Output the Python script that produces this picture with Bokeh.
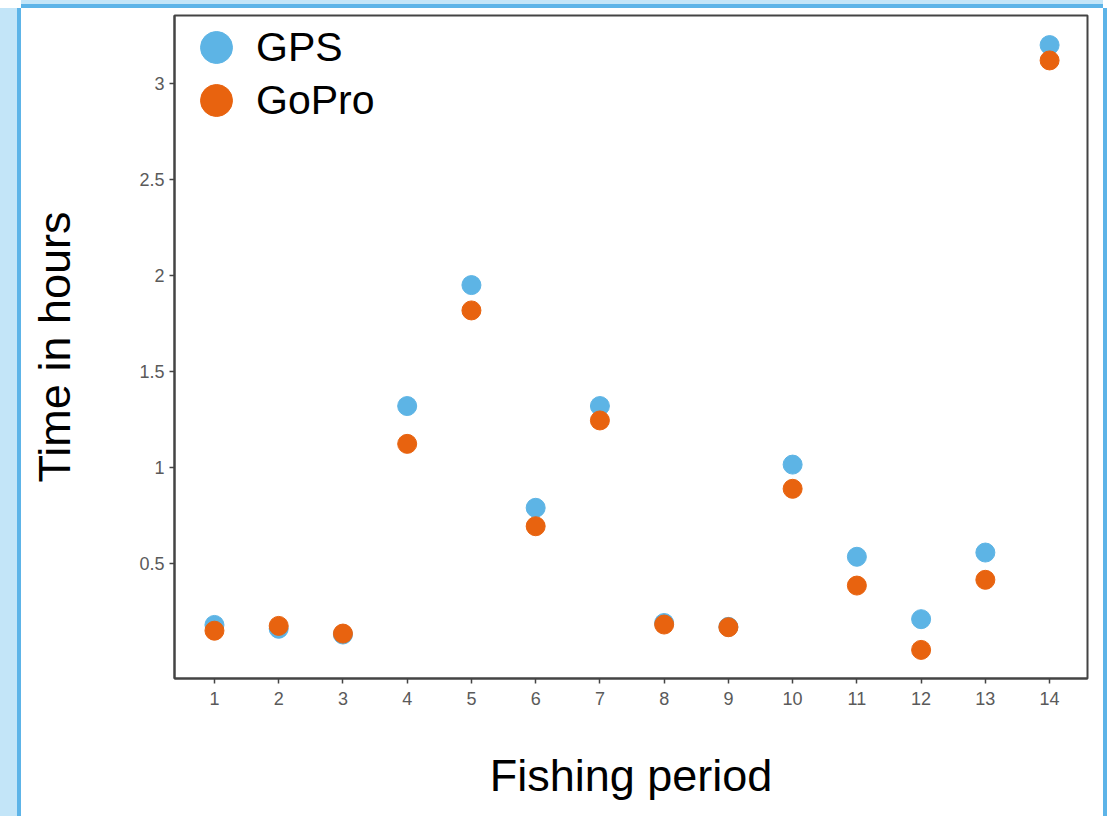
from bokeh.plotting import figure
from bokeh.models import ColumnDataSource, Range1d, FixedTicker, Legend, LegendItem
from bokeh.embed import file_html
from bokeh.resources import INLINE

periods = [1, 2, 3, 4, 5, 6, 7, 8, 9, 10, 11, 12, 13, 14]
gps_hours = [0.18, 0.16, 0.13, 1.32, 1.95, 0.79, 1.32, 0.19, 0.17, 1.015, 0.535, 0.21, 0.557, 3.20]
gopro_hours = [0.15, 0.175, 0.135, 1.123, 1.818, 0.694, 1.245, 0.182, 0.168, 0.889, 0.385, 0.05, 0.415, 3.12]
y_ticks = [0.5, 1, 1.5, 2, 2.5, 3]
y_tick_labels = ["0.5", "1", "1.5", "2", "2.5", "3"]
x_tick_labels = [str(v) for v in periods]

GPS_COLOR = "#5db4e5"
GOPRO_COLOR = "#e8630f"
FONT = "Liberation Sans"

src = ColumnDataSource(dict(period=periods, gps=gps_hours, gopro=gopro_hours))

p = figure(width=1082, height=808, output_backend="svg", toolbar_location=None,
           x_range=Range1d(0.378, 14.59), y_range=Range1d(-0.099, 3.354),
           min_border_left=153, min_border_right=16, min_border_top=7, min_border_bottom=138)
p.margin = (8, 0, 0, 21)
p.styles = {"box-shadow": "-4px 0 0 0 #5db4e8, 4px 0 0 0 #5db4e8, 0 -4px 0 0 #5db4e8, "
                          "-21px 0 0 0 #c3e5f8, 0 -8px 0 0 #c3e5f8"}

p.background_fill_color = "white"
p.border_fill_color = "white"
p.outline_line_color = "#444444"
p.outline_line_width = 2
p.xgrid.visible = False
p.ygrid.visible = False

r_gps = p.scatter("period", "gps", source=src, size=19, fill_color=GPS_COLOR, line_color=GPS_COLOR)
r_gopro = p.scatter("period", "gopro", source=src, size=19, fill_color=GOPRO_COLOR, line_color=GOPRO_COLOR)

for ax in (p.xaxis[0], p.yaxis[0]):
    ax.axis_line_color = "#444444"
    ax.axis_line_width = 2
    ax.major_tick_line_color = "#444444"
    ax.major_tick_line_width = 1.5
    ax.major_tick_out = 5
    ax.major_tick_in = 0
    ax.minor_tick_line_color = None
    ax.major_label_text_font = FONT
    ax.major_label_text_font_size = "18px"
    ax.major_label_text_color = "#5a5a5a"
    ax.axis_label_text_font = FONT
    ax.axis_label_text_font_size = "45px"
    ax.axis_label_text_font_style = "normal"
    ax.axis_label_text_color = "black"

p.xaxis.ticker = FixedTicker(ticks=periods)
p.xaxis.major_label_overrides = {v: s for v, s in zip(periods, x_tick_labels)}
p.xaxis.major_label_standoff = 8
p.xaxis.axis_label = "Fishing period"
p.xaxis.axis_label_standoff = 42

p.yaxis.ticker = FixedTicker(ticks=y_ticks)
p.yaxis.major_label_overrides = {v: s for v, s in zip(y_ticks, y_tick_labels)}
p.yaxis.major_label_standoff = 5
p.yaxis.axis_label = "Time in hours"
p.yaxis.axis_label_standoff = 56

legend_style = dict(glyph_width=80, glyph_height=80, spacing=0,
                    label_standoff=-13, padding=0, margin=0,
                    background_fill_alpha=0, border_line_alpha=0,
                    label_text_font=FONT, label_text_font_size="41px", label_text_color="black")
legend_gps = Legend(items=[LegendItem(label="GPS", renderers=[r_gps])],
                    location=(2, 591), **legend_style)
legend_gopro = Legend(items=[LegendItem(label="GoPro", renderers=[r_gopro])],
                      location=(2, 538), **legend_style)
p.add_layout(legend_gps, "center")
p.add_layout(legend_gopro, "center")

open("out.html", "w").write(file_html(p, INLINE))
